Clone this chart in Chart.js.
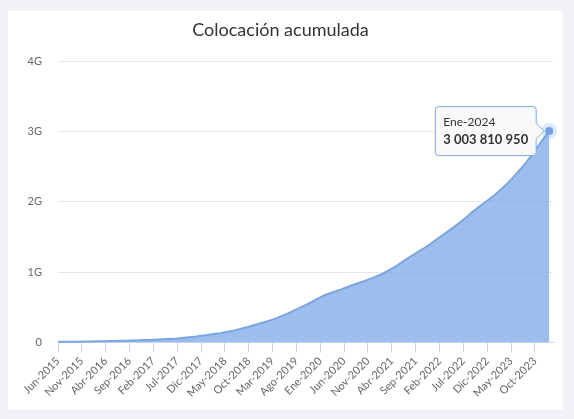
<!DOCTYPE html>
<html>
<head>
<meta charset="utf-8">
<script src="https://cdn.jsdelivr.net/npm/chart.js@4/dist/chart.umd.min.js"></script>
<style>
  html, body { margin: 0; padding: 0; background: #f0f2f6; }
  #card { position: absolute; left: 8px; top: 11px; width: 555px; height: 399px; background: #ffffff; }
  #c { display: block; }
</style>
</head>
<body>
<div id="card"><canvas id="c" width="555" height="399"></canvas></div>
<script>
const categories = [
  "Jun-2015","Jul-2015","Ago-2015","Sep-2015","Oct-2015","Nov-2015","Dic-2015",
  "Ene-2016","Feb-2016","Mar-2016","Abr-2016","May-2016","Jun-2016","Jul-2016","Ago-2016","Sep-2016","Oct-2016","Nov-2016","Dic-2016",
  "Ene-2017","Feb-2017","Mar-2017","Abr-2017","May-2017","Jun-2017","Jul-2017","Ago-2017","Sep-2017","Oct-2017","Nov-2017","Dic-2017",
  "Ene-2018","Feb-2018","Mar-2018","Abr-2018","May-2018","Jun-2018","Jul-2018","Ago-2018","Sep-2018","Oct-2018","Nov-2018","Dic-2018",
  "Ene-2019","Feb-2019","Mar-2019","Abr-2019","May-2019","Jun-2019","Jul-2019","Ago-2019","Sep-2019","Oct-2019","Nov-2019","Dic-2019",
  "Ene-2020","Feb-2020","Mar-2020","Abr-2020","May-2020","Jun-2020","Jul-2020","Ago-2020","Sep-2020","Oct-2020","Nov-2020","Dic-2020",
  "Ene-2021","Feb-2021","Mar-2021","Abr-2021","May-2021","Jun-2021","Jul-2021","Ago-2021","Sep-2021","Oct-2021","Nov-2021","Dic-2021",
  "Ene-2022","Feb-2022","Mar-2022","Abr-2022","May-2022","Jun-2022","Jul-2022","Ago-2022","Sep-2022","Oct-2022","Nov-2022","Dic-2022",
  "Ene-2023","Feb-2023","Mar-2023","Abr-2023","May-2023","Jun-2023","Jul-2023","Ago-2023","Sep-2023","Oct-2023","Nov-2023","Dic-2023",
  "Ene-2024"
];

// Cumulative placement, in millions
const colocacion = [
  10, 10.5, 11, 11.5, 12, 13, 14,
  15, 16, 17, 18, 20, 22, 24, 26, 28, 30, 32, 35,
  37, 40, 43, 46, 50, 54, 58, 64, 70, 77, 85, 95,
  104, 113, 123, 133, 145, 158, 172, 188, 206, 225, 244, 263,
  283, 304, 325, 350, 378, 406, 437, 470, 502, 536, 570, 605,
  640, 676, 700, 722, 745, 770, 795, 820, 845, 868, 892, 918,
  945, 975, 1010, 1050, 1090, 1135, 1180, 1225, 1268, 1310, 1350, 1395,
  1445, 1495, 1540, 1590, 1640, 1690, 1745, 1800, 1860, 1915, 1965, 2015,
  2065, 2120, 2180, 2245, 2315, 2390, 2465, 2545, 2630, 2720, 2820, 2915,
  3003.81095
];

const xTickIndices = [0,5,10,15,20,25,30,35,40,45,50,55,60,65,70,75,80,85,90,95,100];
const yTickValues = [0, 1000, 2000, 3000, 4000];
const yTickLabels = ["0", "1G", "2G", "3G", "4G"];

const points = colocacion.map((v, i) => ({ x: i, y: v }));

function fmtSpaces(n) {
  return String(n).replace(/\B(?=(\d{3})+(?!\d))/g, " ");
}

const FONT = "Lato, 'Open Sans', sans-serif";

const chart = new Chart(document.getElementById('c'), {
  type: 'line',
  data: {
    datasets: [{
      data: points,
      fill: 'origin',
      backgroundColor: 'rgba(124,168,230,0.75)',
      borderColor: '#78a6e4',
      borderWidth: 2,
      tension: 0,
      pointRadius: 0,
      pointHoverRadius: 4,
      pointHoverBackgroundColor: '#6b9fe2',
      pointHoverBorderColor: 'rgba(124,168,230,0.25)',
      pointHoverBorderWidth: 8,
      clip: false
    }]
  },
  options: {
    responsive: false,
    animation: false,
    events: [],
    layout: { padding: { left: 0, right: 10, top: 0, bottom: 0 } },
    plugins: {
      legend: { display: false },
      title: {
        display: true,
        text: 'Colocación acumulada',
        color: '#333333',
        font: { family: FONT, size: 18, weight: 'normal' },
        padding: { top: 8, bottom: 20.4 }
      },
      tooltip: {
        enabled: true,
        xAlign: 'right',
        yAlign: 'center',
        backgroundColor: 'rgba(248,248,248,0.92)',
        borderColor: '#7cabe6',
        borderWidth: 1,
        cornerRadius: 3,
        caretSize: 8,
        caretPadding: 5,
        padding: { left: 8, right: 8, top: 8, bottom: 8 },
        displayColors: false,
        titleColor: '#333333',
        bodyColor: '#333333',
        titleFont: { family: FONT, size: 12, weight: 'normal' },
        bodyFont: { family: FONT, size: 13, weight: 'bold' },
        titleMarginBottom: 3,
        callbacks: {
          title: (items) => categories[items[0].dataIndex],
          label: (item) => fmtSpaces(Math.round(item.parsed.y * 1e6))
        }
      }
    },
    scales: {
      x: {
        type: 'linear',
        min: 0,
        max: 103.8,
        afterBuildTicks: (scale) => { scale.ticks = xTickIndices.map(v => ({ value: v })); },
        afterFit: (scale) => { scale.height = 67.5; },
        ticks: {
          autoSkip: false,
          minRotation: 45,
          maxRotation: 45,
          padding: 2,
          color: '#666666',
          font: { family: FONT, size: 11 },
          callback: (v) => categories[v]
        },
        grid: {
          drawOnChartArea: false,
          drawTicks: true,
          tickLength: 10,
          tickColor: '#ccd6eb',
          lineWidth: 1
        },
        border: { display: true, color: '#ccd6eb', width: 1 }
      },
      y: {
        min: 0,
        max: 4000,
        afterBuildTicks: (scale) => { scale.ticks = yTickValues.map(v => ({ value: v })); },
        afterFit: (scale) => { scale.width = 50; },
        ticks: {
          padding: 16,
          color: '#666666',
          font: { family: FONT, size: 11 },
          callback: (v) => yTickLabels[yTickValues.indexOf(v)]
        },
        grid: {
          color: '#e6e6e6',
          drawTicks: false,
          lineWidth: 1
        },
        border: { display: false }
      }
    }
  }
});

const last = colocacion.length - 1;
const meta = chart.getDatasetMeta(0);
const el = meta.data[last];
chart.setActiveElements([{ datasetIndex: 0, index: last }]);
chart.tooltip.setActiveElements([{ datasetIndex: 0, index: last }], { x: el.x, y: el.y });
chart.update();
</script>
</body>
</html>
